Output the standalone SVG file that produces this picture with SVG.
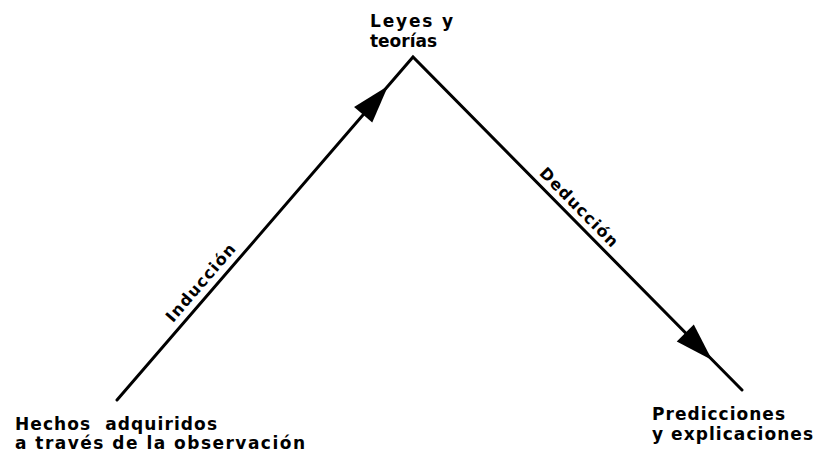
<svg xmlns="http://www.w3.org/2000/svg" width="822" height="456" viewBox="0 0 822 456">
  <defs>
    <style>
      .node { font-family: "DejaVu Sans", "Liberation Sans", Arial, sans-serif; font-weight: bold; font-size: 17px; fill: #000; white-space: pre; }
      .lbl { font-family: "DejaVu Sans", "Liberation Sans", Arial, sans-serif; font-weight: bold; font-size: 16px; fill: #000; }
      .edge { fill: none; stroke: #000; stroke-width: 3; stroke-linecap: round; stroke-linejoin: miter; }
    </style>
    <polygon id="arrow" points="0,0 -38,-12 -38,12" fill="#000"/>
  </defs>
  <rect width="822" height="456" fill="#fff"/>
  <g id="connectors">
    <path class="edge" d="M117,400 L413,57 L742,390"/>
    <use href="#arrow" transform="translate(388,86) rotate(-49.2)"/>
    <use href="#arrow" transform="translate(712,360) rotate(45.3)"/>
    <text class="lbl" text-anchor="middle" transform="translate(210,291) rotate(-49.2)" x="0" y="-7" textLength="97" lengthAdjust="spacing">Inducción</text>
    <text class="lbl" text-anchor="middle" transform="translate(570,216) rotate(45.3)" x="0" y="-7" textLength="104" lengthAdjust="spacing">Deducción</text>
  </g>
  <g id="leyes">
    <text class="node" x="370" y="27" textLength="83" lengthAdjust="spacing">Leyes y</text>
    <text class="node" x="370" y="47" textLength="67" lengthAdjust="spacing">teorías</text>
  </g>
  <g id="hechos">
    <text class="node" x="15" y="430" textLength="202" lengthAdjust="spacing">Hechos  adquiridos</text>
    <text class="node" x="15" y="449" textLength="290" lengthAdjust="spacing">a través de la observación</text>
  </g>
  <g id="predicciones">
    <text class="node" x="652" y="420" textLength="133" lengthAdjust="spacing">Predicciones</text>
    <text class="node" x="652" y="440" textLength="161" lengthAdjust="spacing">y explicaciones</text>
  </g>
</svg>
